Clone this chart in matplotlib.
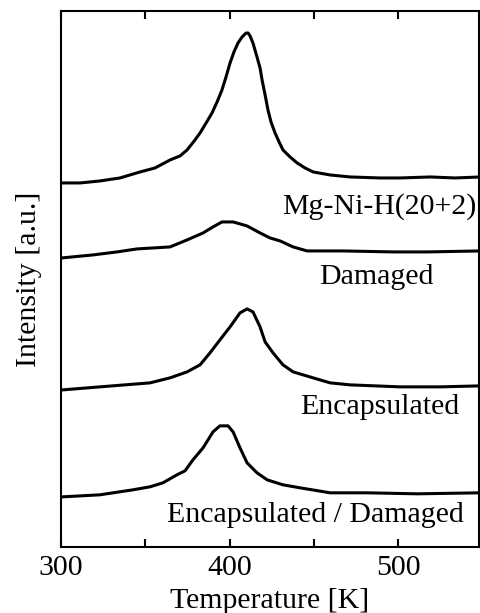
import matplotlib.pyplot as plt
from matplotlib.ticker import MultipleLocator

plt.rcParams["font.family"] = ["Liberation Serif", "DejaVu Serif"]

# Thermal desorption curves (temperature in K, intensity in a.u.)
t_mgnih = [301.2, 311.3, 323.1, 335.0, 346.9, 355.8, 364.7, 370.6, 374.8, 379.5, 382.5,
           386.1, 389.6, 392.6, 395.5, 397.9, 400.3, 402.6, 405.0, 407.4, 409.8, 411.0,
           412.2, 413.9, 416.3, 418.1, 419.3, 421.1, 422.8, 424.6, 427.0, 429.4, 431.7,
           435.9, 440.1, 444.8, 449.6, 459.7, 471.5, 489.3, 501.2, 519.0, 533.8, 548.7]
i_mgnih = [364, 364, 366, 369, 375, 379, 387, 391, 397, 407, 414,
           424, 434, 445, 457, 470, 484, 495, 504, 510, 514, 514,
           511, 504, 490, 479, 467, 452, 437, 425, 414, 405, 397,
           390, 384, 379, 375, 372, 370, 369, 369, 370, 369, 370]

t_damaged = [300.5, 319.0, 333.2, 345.1, 364.7, 374.8, 384.3, 390.2, 395.5, 402.1,
             410.4, 418.1, 424.0, 430.0, 437.7, 446.0, 467.4, 497.0, 517.2, 548.7]
i_damaged = [289, 292, 295, 298, 300, 307, 314, 320, 325, 325,
             321, 314, 309, 306, 300, 296, 296, 295, 295, 296]

t_encap = [301.2, 323.1, 352.8, 364.7, 374.8, 382.5, 388.4, 394.3, 400.3, 406.2, 410.4,
           413.9, 418.1, 421.1, 425.8, 431.7, 437.7, 449.6, 459.7, 471.5, 501.2, 524.9, 548.7]
i_encap = [157, 160, 164, 169, 175, 182, 194, 207, 220, 234, 238,
           235, 220, 205, 194, 182, 175, 169, 164, 162, 160, 160, 161]

t_encdam = [301.2, 323.1, 342.7, 352.8, 360.5, 368.8, 373.6, 378.3, 384.3, 390.2, 394.3,
            399.1, 402.1, 406.2, 410.4, 416.3, 422.3, 431.7, 441.8, 459.7, 481.6, 511.3, 548.7]
i_encdam = [50, 52, 57, 60, 64, 72, 76, 87, 99, 115, 121,
            121, 115, 99, 84, 74, 67, 62, 59, 54, 54, 53, 54]

labels = ["Mg-Ni-H(20+2)", "Damaged", "Encapsulated", "Encapsulated / Damaged"]

fig = plt.figure(figsize=(4.8, 6.13), dpi=100)
ax = fig.add_axes([0.127, 0.108, 0.871, 0.874])

for t, i in [(t_mgnih, i_mgnih), (t_damaged, i_damaged), (t_encap, i_encap), (t_encdam, i_encdam)]:
    ax.plot(t, i, color="black", lw=2.2, solid_joinstyle="round")

# curve labels
fs = 21.5
ax.text(489, 340, labels[0], fontsize=fs, ha="center", va="center")
ax.text(487, 270, labels[1], fontsize=fs, ha="center", va="center")
ax.text(489, 140, labels[2], fontsize=fs, ha="center", va="center")
ax.text(451, 32, labels[3], fontsize=fs, ha="center", va="center")

ax.set_xlim(300, 548)
ax.set_ylim(0, 536)
ax.xaxis.set_major_locator(MultipleLocator(100))
ax.xaxis.set_minor_locator(MultipleLocator(50))
ax.tick_params(axis="x", which="both", direction="in", top=True, length=6, width=1.5,
               labelsize=fs, pad=6)
ax.set_yticks([])
for s in ax.spines.values():
    s.set_linewidth(1.5)

ax.set_xlabel("Temperature [K]", fontsize=fs, labelpad=5)
ax.set_ylabel("Intensity [a.u.]", fontsize=fs, labelpad=14)

fig.savefig("out.png", dpi=100)
